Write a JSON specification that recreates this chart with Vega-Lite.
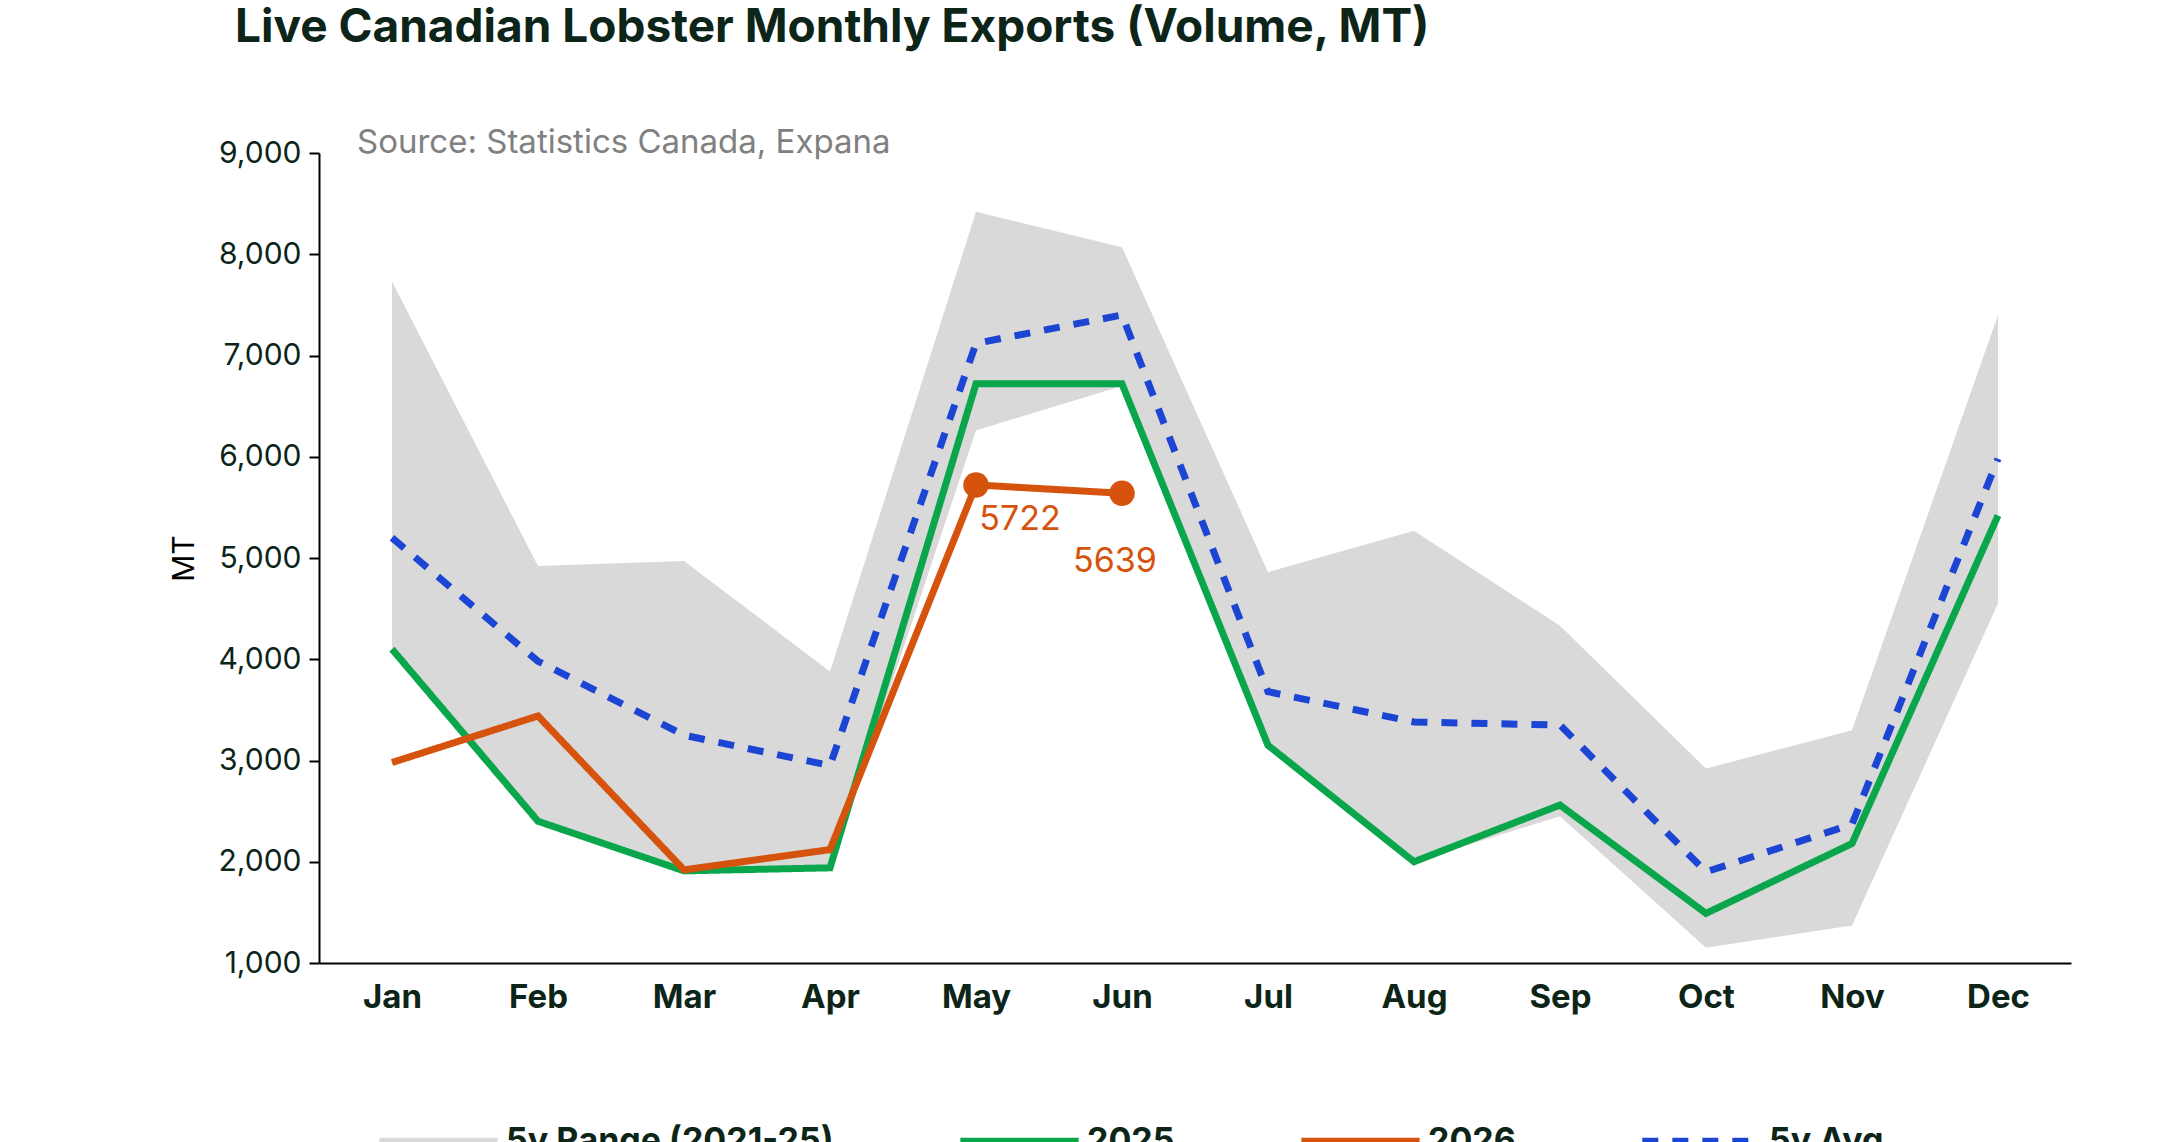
{
"$schema":"https://vega.github.io/schema/vega-lite/v6.json",
"autosize":"none",
"width":1752,"height":810,
"padding":{"left":319,"top":153,"right":94,"bottom":179},
"background":"white",
"config":{"font":"Inter","view":{"stroke":null}},
"title":{"text":"Live Canadian Lobster Monthly Exports (Volume, MT)","anchor":"start","dx":65,"offset":75,"fontSize":46,"fontWeight":"bold","color":"#0d2418"},
"datasets":{
"range":[
{"month":"Jan","lo":4100,"hi":7730},{"month":"Feb","lo":2400,"hi":4920},{"month":"Mar","lo":1900,"hi":4970},{"month":"Apr","lo":1940,"hi":3880},
{"month":"May","lo":6260,"hi":8420},{"month":"Jun","lo":6700,"hi":8070},{"month":"Jul","lo":3150,"hi":4860},{"month":"Aug","lo":2000,"hi":5270},
{"month":"Sep","lo":2450,"hi":4330},{"month":"Oct","lo":1150,"hi":2920},{"month":"Nov","lo":1370,"hi":3300},{"month":"Dec","lo":4550,"hi":7400}],
"lines":[
{"month":"Jan","series":"2025","value":4100},{"month":"Feb","series":"2025","value":2400},{"month":"Mar","series":"2025","value":1910},{"month":"Apr","series":"2025","value":1940},
{"month":"May","series":"2025","value":6720},{"month":"Jun","series":"2025","value":6720},{"month":"Jul","series":"2025","value":3150},{"month":"Aug","series":"2025","value":2000},
{"month":"Sep","series":"2025","value":2560},{"month":"Oct","series":"2025","value":1490},{"month":"Nov","series":"2025","value":2180},{"month":"Dec","series":"2025","value":5420},
{"month":"Jan","series":"2026","value":2980},{"month":"Feb","series":"2026","value":3440},{"month":"Mar","series":"2026","value":1920},{"month":"Apr","series":"2026","value":2120},
{"month":"May","series":"2026","value":5722},{"month":"Jun","series":"2026","value":5639},
{"month":"Jan","series":"5y Avg","value":5200},{"month":"Feb","series":"5y Avg","value":3980},{"month":"Mar","series":"5y Avg","value":3250},{"month":"Apr","series":"5y Avg","value":2950},
{"month":"May","series":"5y Avg","value":7120},{"month":"Jun","series":"5y Avg","value":7400},{"month":"Jul","series":"5y Avg","value":3680},{"month":"Aug","series":"5y Avg","value":3380},
{"month":"Sep","series":"5y Avg","value":3350},{"month":"Oct","series":"5y Avg","value":1900},{"month":"Nov","series":"5y Avg","value":2370},{"month":"Dec","series":"5y Avg","value":5980}],
"lab1":[{"month":"May","value":5722,"label":"5722"}],
"lab2":[{"month":"Jun","value":5639,"label":"5639"}],
"pts":[{"month":"May","value":5722},{"month":"Jun","value":5639}],
"source":[{"month":"Jan","value":9000,"label":"Source: Statistics Canada, Expana"}]
},
"encoding":{
"x":{"field":"month","type":"ordinal","sort":["Jan","Feb","Mar","Apr","May","Jun","Jul","Aug","Sep","Oct","Nov","Dec"],
"scale":{"type":"point","padding":0.5},
"axis":{"title":null,"labelAngle":0,"labelFontSize":33,"labelFontWeight":"bold","labelColor":"#0d2418","labelPadding":18,"domainColor":"#000","domainWidth":2,"tickColor":"#000","tickSize":0}},
"y":{"field":"value","type":"quantitative","scale":{"domain":[1000,9000],"zero":false,"nice":false},
"axis":{"title":"MT","titleFontSize":30,"titleFontWeight":"normal","titleColor":"#000","titlePadding":18,"values":[1000,2000,3000,4000,5000,6000,7000,8000,9000],"format":",.0f","labelFontSize":30,"labelColor":"#0d2418","grid":false,"domainColor":"#000","domainWidth":2,"tickColor":"#000","tickSize":10,"tickWidth":2,"labelPadding":8}}
},
"resolve":{"scale":{"y":"shared"}},
"layer":[
{"data":{"name":"range"},"mark":{"type":"area","opacity":1,"strokeWidth":0},
"encoding":{"y":{"field":"lo","type":"quantitative"},"y2":{"field":"hi"},
"color":{"datum":"5y Range (2021-25)"},"strokeDash":{"datum":"5y Range (2021-25)"}}},
{"data":{"name":"lines"},"mark":{"type":"line","strokeWidth":7},
"encoding":{
"color":{"field":"series","type":"nominal","scale":{"domain":["5y Range (2021-25)","2025","2026","5y Avg"],"range":["#d9d9d9","#0aa64c","#d6530e","#1c45d4"]},
"legend":{"orient":"none","legendX":56,"legendY":925,"direction":"horizontal","title":null,"symbolType":"stroke","symbolStrokeWidth":8,"symbolSize":14000,"labelFontSize":34,"labelFontWeight":"bold","labelColor":"#0d2418","columnPadding":110,"labelLimit":500}},
"strokeDash":{"field":"series","type":"nominal","scale":{"domain":["5y Range (2021-25)","2025","2026","5y Avg"],"range":[[1,0],[1,0],[1,0],[16,14]]}}}},
{"data":{"name":"pts"},"mark":{"type":"point","filled":true,"size":650,"color":"#d6530e","opacity":1}},
{"data":{"name":"lab1"},"mark":{"type":"text","color":"#d6530e","fontSize":34,"align":"center","baseline":"top","dx":44,"dy":18},
"encoding":{"text":{"field":"label"}}},
{"data":{"name":"lab2"},"mark":{"type":"text","color":"#d6530e","fontSize":34,"align":"center","baseline":"top","dx":-7,"dy":52},
"encoding":{"text":{"field":"label"}}},
{"data":{"name":"source"},"mark":{"type":"text","color":"#808080","fontSize":33,"align":"left","baseline":"middle","dx":-35,"dy":-10},
"encoding":{"text":{"field":"label"}}}
]
}
